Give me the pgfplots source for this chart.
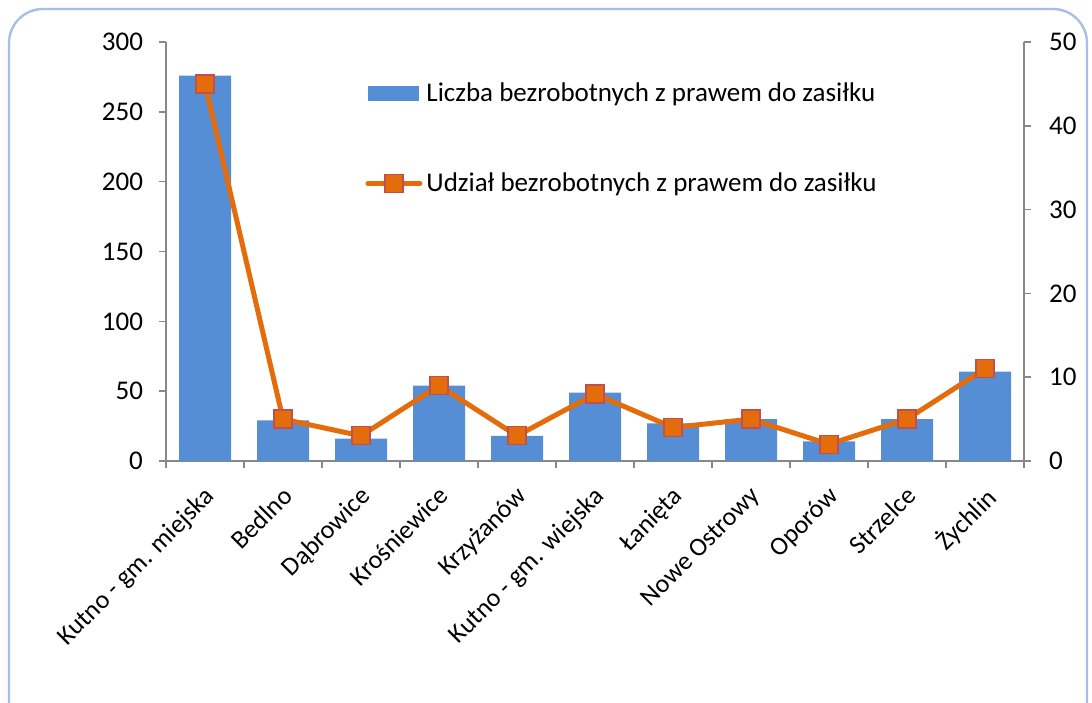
\documentclass[border=0pt]{standalone}
\usepackage{pgfplots}
\pgfplotsset{compat=1.18}
\usepackage{fontspec}
\setmainfont{Carlito}
\definecolor{barblue}{HTML}{558ED5}
\definecolor{lineorange}{HTML}{E46C0A}
\definecolor{markred}{HTML}{C0504D}
\definecolor{axisgray}{HTML}{888888}
\definecolor{framecol}{HTML}{A7BFE8}
\begin{document}
\begin{tikzpicture}
\useasboundingbox (0,0) rectangle (546pt,351pt);
\draw[framecol, line width=1.2pt, rounded corners=17pt] (4.5pt,-20pt) rectangle (543.5pt,346.5pt);
\pgfplotsset{
  every axis/.append style={
    scale only axis, width=429pt, height=209.5pt,
    at={(83pt,120.5pt)}, anchor=south west,
    xmin=-0.5, xmax=10.5,
    font=\fontsize{13.5}{16}\selectfont,
    axis line style={axisgray, line width=0.8pt},
    tick style={axisgray, line width=0.8pt},
    tick align=outside,
    major tick length=3.5pt,
    /pgf/number format/assume math mode=true,
  }
}
\begin{axis}[
  axis y line*=left, axis x line*=bottom,
  ymin=0, ymax=300, ytick={0,50,...,300},
  xtick={-0.5,0.5,...,10.5}, xticklabels={},
  extra x ticks={0,...,10},
  extra x tick labels={Kutno - gm. miejska, Bedlno, Dąbrowice, Krośniewice, Krzyżanów, Kutno - gm. wiejska, Łanięta, Nowe Ostrowy, Oporów, Strzelce, Żychlin},
  extra x tick style={major tick length=0pt, tick label style={rotate=45, anchor=north east, inner sep=1pt, font=\fontsize{13}{15}\selectfont, xshift=-8pt, yshift=-6.6pt}},
  yticklabel style={xshift=-4.5pt},
]
\addplot[ybar, bar width=26pt, fill=barblue, draw=none] coordinates {
(0,276) (1,29) (2,16) (3,54) (4,18) (5,49) (6,27) (7,30) (8,14) (9,30) (10,64)};
\end{axis}
\begin{axis}[
  axis y line*=right, axis x line=none,
  ymin=0, ymax=50, ytick={0,10,...,50},
  yticklabel style={xshift=5.5pt},
  legend cell align=left,
  legend style={draw=none, fill=none, at={(0.232,0.913)}, anchor=north west, row sep=30pt, inner sep=0pt, column sep=0pt, font=\fontsize{13.5}{16}\selectfont},
]
\addlegendimage{legend image code/.code={\fill[barblue] (0pt,-3.5pt) rectangle (25pt,3.5pt);}}
\addlegendentry{Liczba bezrobotnych z prawem do zasiłku}
\addplot[lineorange, line width=2.5pt, mark=square*, mark size=4.5pt, mark options={draw=markred, fill=lineorange, line width=0.6pt},
  legend image code/.code={\draw[lineorange, line width=2.5pt, line cap=round] (0pt,0pt) -- (26pt,0pt); \draw[markred, fill=lineorange, line width=0.6pt] (8.5pt,-4.5pt) rectangle (17.5pt,4.5pt);}]
coordinates {(0,45) (1,5) (2,3) (3,9) (4,3) (5,8) (6,4) (7,5) (8,2) (9,5) (10,11)};
\addlegendentry{Udział bezrobotnych z prawem do zasiłku}
\end{axis}
\end{tikzpicture}
\end{document}
